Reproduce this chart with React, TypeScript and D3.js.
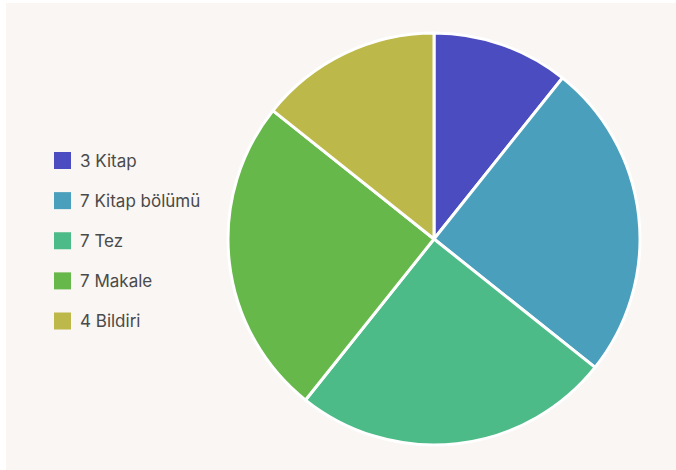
import React from "react";
import * as d3 from "d3";

const categories = ["Kitap", "Kitap bölümü", "Tez", "Makale", "Bildiri"];
const values = [3, 7, 7, 7, 4];
const colors = ["#4a4cbf", "#4aa0bc", "#4cbb88", "#66b84a", "#bdb84a"];

const W = 676;
const H = 470;
const cx = 434;
const cy = 239;
const R = 206;

export default function App() {
  const pie = d3.pie<number>().sort(null).value((d) => d);
  const arcs = pie(values);
  const arcGen = d3.arc<d3.PieArcDatum<number>>().innerRadius(0).outerRadius(R);
  const legendY = d3.scalePoint<number>().domain(d3.range(categories.length)).range([160.5, 321]);

  return (
    <svg
      width={W}
      height={H}
      style={{ position: "fixed", left: 0, top: 0, fontFamily: "Inter, 'Noto Sans', sans-serif" }}
    >
      <rect x={0} y={0} width={W} height={H} fill="#ffffff" />
      <rect x={6} y={3} width={W - 6} height={H - 3} fill="#f9f6f3" />
      <g transform={`translate(${cx},${cy})`}>
        {arcs.map((a, i) => (
          <path key={i} d={arcGen(a) || ""} fill={colors[i]} stroke="#ffffff" strokeWidth={3} strokeLinejoin="round" />
        ))}
      </g>
      <g>
        {categories.map((c, i) => (
          <g key={c} transform={`translate(54,${legendY(i)})`}>
            <rect x={0} y={-8.5} width={17} height={17} fill={colors[i]} />
            <text x={26} y={0} dy="0.36em" fontSize={17} fill="#4a4a4a">
              {`${values[i]} ${c}`}
            </text>
          </g>
        ))}
      </g>
    </svg>
  );
}
